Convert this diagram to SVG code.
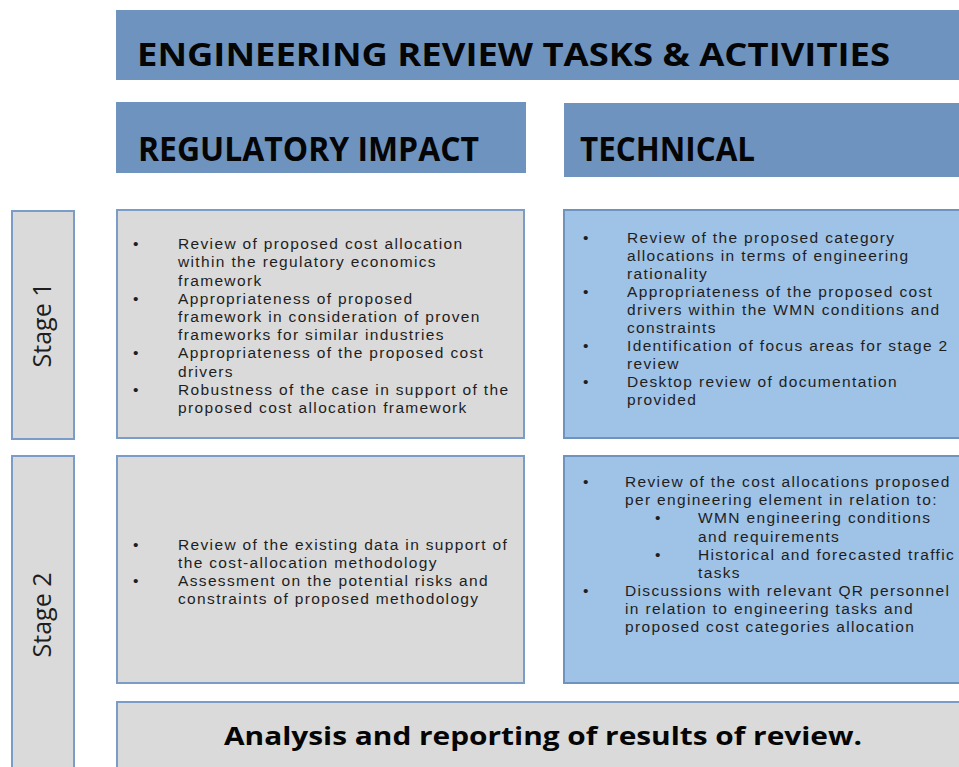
<svg xmlns="http://www.w3.org/2000/svg" width="959" height="767" viewBox="0 0 959 767">
  <style>
    .hdr { fill: #6f93bf; }
    .grey { fill: #dadada; stroke: #7b9cc6; stroke-width: 2; }
    .blue { fill: #9fc2e7; stroke: #6f93bf; stroke-width: 2; }
    .head { font-family: "Open Sans", "Liberation Sans", sans-serif; font-weight: 700; fill: #050505; }
    .body { font-family: "Liberation Sans", "Open Sans", sans-serif; font-size: 15.5px; letter-spacing: 1.35px; fill: #1e1e1e; }
    .stage { font-family: "Open Sans", "Liberation Sans", sans-serif; font-size: 25px; fill: #1e1e1e; }
  </style>

  <rect width="959" height="767" fill="#ffffff"/>

  <!-- title banner -->
  <g id="title">
    <rect class="hdr" x="116" y="10" width="850" height="70"/>
    <text class="head" x="137" y="66" font-size="32" textLength="753" lengthAdjust="spacingAndGlyphs">ENGINEERING REVIEW TASKS &amp; ACTIVITIES</text>
  </g>

  <!-- column headers -->
  <g id="regulatory-header">
    <rect class="hdr" x="116" y="102" width="410" height="71"/>
    <text class="head" x="138" y="161" font-size="34" textLength="341" lengthAdjust="spacingAndGlyphs">REGULATORY IMPACT</text>
  </g>
  <g id="technical-header">
    <rect class="hdr" x="564" y="103" width="400" height="74"/>
    <text class="head" x="580" y="161" font-size="34" textLength="175" lengthAdjust="spacingAndGlyphs">TECHNICAL</text>
  </g>

  <!-- stage labels -->
  <g id="stage-1">
    <rect class="grey" x="12" y="211" width="62" height="228"/>
    <text class="stage" transform="translate(51 325) rotate(-90)" text-anchor="middle">Stage 1</text>
  </g>
  <g id="stage-2">
    <rect class="grey" x="12" y="456" width="62" height="330"/>
    <text class="stage" transform="translate(51 615) rotate(-90)" text-anchor="middle">Stage 2</text>
  </g>

  <!-- stage 1, regulatory impact -->
  <g id="s1-regulatory">
    <rect class="grey" x="117" y="210" width="407" height="228"/>
    <text class="body">
      <tspan x="133" y="249">•</tspan><tspan x="178" y="249">Review of proposed cost allocation</tspan>
      <tspan x="178" y="267">within the regulatory economics</tspan>
      <tspan x="178" y="285.5">framework</tspan>
      <tspan x="133" y="303.5">•</tspan><tspan x="178" y="303.5">Appropriateness of proposed</tspan>
      <tspan x="178" y="322">framework in consideration of proven</tspan>
      <tspan x="178" y="340">frameworks for similar industries</tspan>
      <tspan x="133" y="358">•</tspan><tspan x="178" y="358">Appropriateness of the proposed cost</tspan>
      <tspan x="178" y="376.5">drivers</tspan>
      <tspan x="133" y="394.5">•</tspan><tspan x="178" y="394.5">Robustness of the case in support of the</tspan>
      <tspan x="178" y="413">proposed cost allocation framework</tspan>
    </text>
  </g>

  <!-- stage 1, technical -->
  <g id="s1-technical">
    <rect class="blue" x="564" y="210" width="400" height="228"/>
    <text class="body">
      <tspan x="583" y="243">•</tspan><tspan x="627" y="243">Review of the proposed category</tspan>
      <tspan x="627" y="261">allocations in terms of engineering</tspan>
      <tspan x="627" y="279">rationality</tspan>
      <tspan x="583" y="297">•</tspan><tspan x="627" y="297">Appropriateness of the proposed cost</tspan>
      <tspan x="627" y="315">drivers within the WMN conditions and</tspan>
      <tspan x="627" y="333">constraints</tspan>
      <tspan x="583" y="351">•</tspan><tspan x="627" y="351">Identification of focus areas for stage 2</tspan>
      <tspan x="627" y="369">review</tspan>
      <tspan x="583" y="387">•</tspan><tspan x="627" y="387">Desktop review of documentation</tspan>
      <tspan x="627" y="405">provided</tspan>
    </text>
  </g>

  <!-- stage 2, regulatory impact -->
  <g id="s2-regulatory">
    <rect class="grey" x="117" y="456" width="407" height="227"/>
    <text class="body">
      <tspan x="133" y="550">•</tspan><tspan x="178" y="550">Review of the existing data in support of</tspan>
      <tspan x="178" y="568">the cost-allocation methodology</tspan>
      <tspan x="133" y="586">•</tspan><tspan x="178" y="586">Assessment on the potential risks and</tspan>
      <tspan x="178" y="604">constraints of proposed methodology</tspan>
    </text>
  </g>

  <!-- stage 2, technical -->
  <g id="s2-technical">
    <rect class="blue" x="564" y="456" width="400" height="227"/>
    <text class="body">
      <tspan x="583" y="487">•</tspan><tspan x="625" y="487">Review of the cost allocations proposed</tspan>
      <tspan x="625" y="505">per engineering element in relation to:</tspan>
      <tspan x="655" y="523">•</tspan><tspan x="698" y="523">WMN  engineering conditions</tspan>
      <tspan x="698" y="541.5">and requirements</tspan>
      <tspan x="655" y="559.5">•</tspan><tspan x="698" y="559.5">Historical and forecasted traffic</tspan>
      <tspan x="698" y="577.5">tasks</tspan>
      <tspan x="583" y="596">•</tspan><tspan x="625" y="596">Discussions with relevant QR personnel</tspan>
      <tspan x="625" y="614">in relation to engineering tasks and</tspan>
      <tspan x="625" y="632">proposed cost categories allocation</tspan>
    </text>
  </g>

  <!-- closing activity -->
  <g id="analysis">
    <rect class="grey" x="117" y="702" width="850" height="80"/>
    <text class="head" x="224" y="745" font-size="25" textLength="638" lengthAdjust="spacingAndGlyphs" fill="#111">Analysis and reporting of results of review.</text>
  </g>
</svg>
